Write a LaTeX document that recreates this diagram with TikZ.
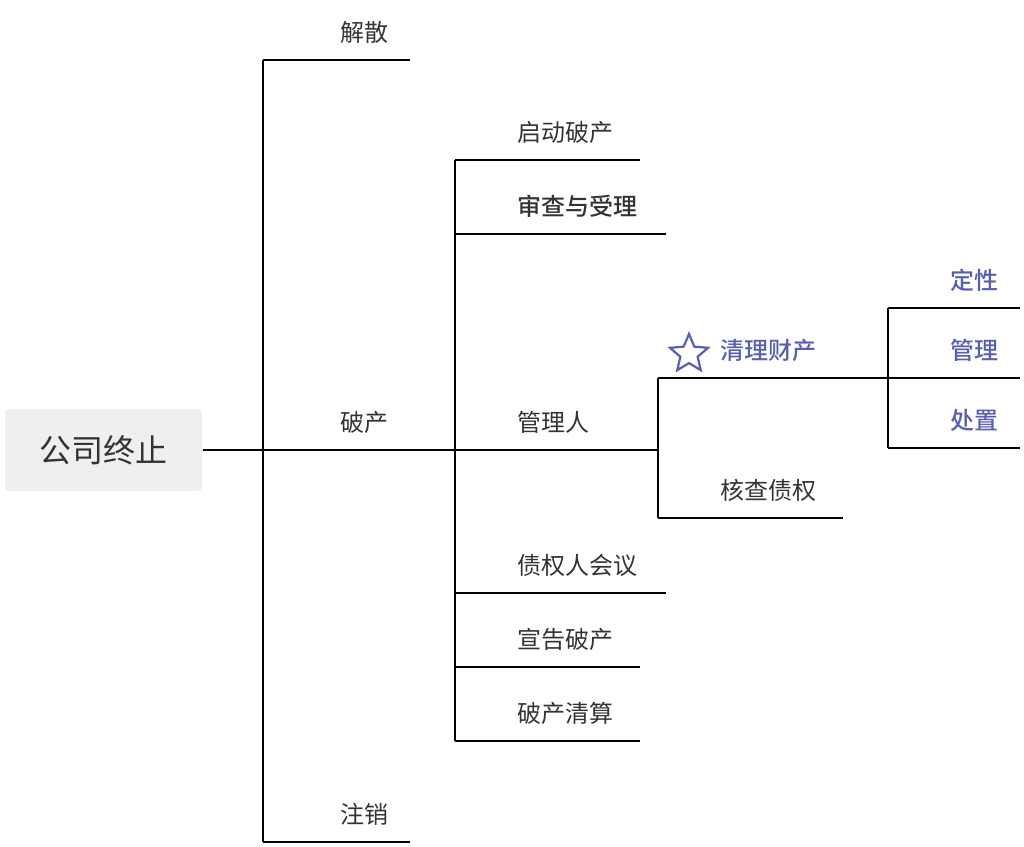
\documentclass[tikz,border=0pt]{standalone}
\usepackage{fontspec}
\setmainfont{Noto Sans CJK SC}
\newfontfamily\medfont{Noto Sans CJK SC Medium}
\usetikzlibrary{shapes.geometric}
\definecolor{blu}{HTML}{5860AE}
\definecolor{txt}{HTML}{333333}
\definecolor{rootfill}{HTML}{EEF0EE}
\begin{document}
\begin{tikzpicture}[x=1pt,y=-1pt,line width=1.3pt,
  lab/.style={anchor=west,inner sep=0pt,font=\fontsize{24}{24}\selectfont,text=txt},
  blab/.style={lab,text=blu,font=\fontsize{24}{24}\selectfont\medfont}]
\useasboundingbox (0,0) rectangle (1024,846);
\node[fill=rootfill,rounded corners=4pt,minimum width=197pt,minimum height=82pt,font=\fontsize{32}{32}\selectfont,text=txt] (root) at (103.5,450) {公司终止};
% level 1
\coordinate (r1) at (263,450);
\draw (root.east) -- (r1);
\draw (263,60) -- (263,842);
\draw (263,60) -- (410,60); \node[lab] (jies) at (340,32) {解散};
\draw (263,450) -- (410,450); \node[lab] (poc) at (340,422) {破产};
\draw (263,842) -- (410,842); \node[lab] (zx) at (340,814) {注销};
% level 2
\draw (410,450) -- (455,450);
\draw (455,160) -- (455,741);
\draw (455,160) -- (640,160); \node[lab] at (517,132) {启动破产};
\draw (455,234) -- (666,234); \node[lab,font=\fontsize{24}{24}\selectfont\medfont] at (517,206) {审查与受理};
\draw (455,450) -- (612,450); \node[lab] (glr) at (517,422) {管理人};
\draw (455,593) -- (666,593); \node[lab] at (517,565) {债权人会议};
\draw (455,667) -- (640,667); \node[lab] at (517,639) {宣告破产};
\draw (455,741) -- (640,741); \node[lab] at (517,713) {破产清算};
% level 3
\draw (612,450) -- (658,450);
\draw (658,378) -- (658,518);
\draw (658,378) -- (843,378); \node[blab] (qlcc) at (720,350) {清理财产};
\node[star,star points=5,star point ratio=2.2,draw=blu,line width=2.2pt,minimum size=40pt,inner sep=0pt] at (689,354) {};
\draw (658,518) -- (843,518); \node[lab] at (720,490) {核查债权};
% level 4
\draw (843,378) -- (888,378);
\draw (888,308) -- (888,448);
\draw (888,308) -- (1020,308); \node[blab] at (950,280) {定性};
\draw (888,378) -- (1020,378); \node[blab] at (950,350) {管理};
\draw (888,448) -- (1020,448); \node[blab] at (950,420) {处置};
\end{tikzpicture}
\end{document}
